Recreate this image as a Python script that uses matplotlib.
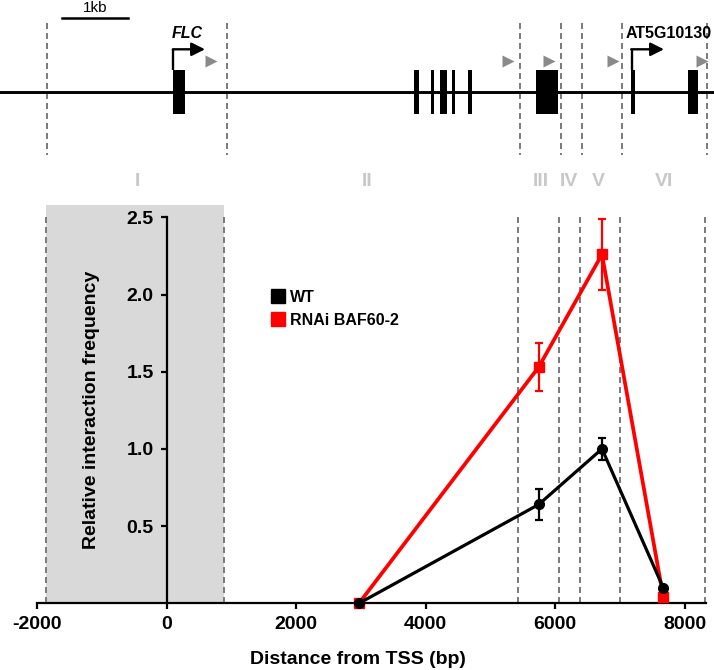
import matplotlib
matplotlib.use("Agg")
import matplotlib.pyplot as plt
from matplotlib.patches import Rectangle
from matplotlib.lines import Line2D

plt.rcParams['font.family'] = ['Liberation Sans', 'DejaVu Sans']
plt.rcParams['lines.scale_dashes'] = False

# ---------------- data ----------------
positions = [2972, 5747, 6724, 7671]
wt_values = [0.0, 0.64, 1.00, 0.10]
wt_err = [0.0, 0.10, 0.07, 0.0]
rnai_values = [0.0, 1.53, 2.26, 0.04]
rnai_err = [0.0, 0.155, 0.23, 0.0]
series_labels = ["WT", "RNAi BAF60-2"]

x_ticks = [-2000, 0, 2000, 4000, 6000, 8000]
y_ticks = [0.5, 1.0, 1.5, 2.0, 2.5]

region_bounds = [-1865, 888, 5432, 6060, 6384, 6997, 8314]
region_labels = ["I", "II", "III", "IV", "V", "VI"]
region_label_x = [-452, 3096, 5775, 6210, 6662, 7678]
shaded_region = (-1865, 888)

# gene diagram (bp, same scale as the plot)
diagram_bounds = [-1845, 928, 5458, 6091, 6415, 7037, 8350]
exon_starts = [96, 3821, 4079, 4223, 4413, 4655, 5705, 7167, 8057]
exon_ends = [286, 3899, 4135, 4336, 4459, 4717, 6049, 7234, 8211]
primer_pos = [684, 5276, 5907, 6898, 8263]
tss_pos = [105, 7183]
tss_tip = [594, 7681]
gene_names = ["FLC", "AT5G10130"]
scalebar = (-1618, -599)

# ---------------- layout ----------------
W, H = 714, 670
fig = plt.figure(figsize=(W / 100, H / 100), dpi=100)

px_left, px_right = 37, 706
px_y0, px_ytop = 603.3, 217.3
xmin, xmax = -2000, 8330
ax = fig.add_axes([px_left / W, (H - px_y0) / H, (px_right - px_left) / W, (px_y0 - px_ytop) / H])
ax.set_xlim(xmin, xmax)
ax.set_ylim(0, 2.5)

s = (xmax - xmin) / (px_right - px_left)  # bp per pixel

dash = [(0, (4.3, 2.9))]

# shaded region and dashed boundaries
ax.add_patch(Rectangle((shaded_region[0], 0), shaded_region[1] - shaded_region[0], 2.58,
                       facecolor='#d9d9d9', edgecolor='none', zorder=0, clip_on=False))
ax.vlines(region_bounds, 0, 2.53, colors='#7a7a7a', linestyles=dash,
          linewidth=1.4, zorder=1, clip_on=False)

for lab, xl in zip(region_labels, region_label_x):
    ax.text(xl, 2.735, lab, ha='center', va='center', fontsize=14, fontweight='bold',
            color='#c8c8c8', clip_on=False)

# series
ax.errorbar(positions, rnai_values, yerr=rnai_err, color='#ff0000', lw=2.7, marker='s', ms=7,
            elinewidth=1.6, capsize=3.2, capthick=1.6, zorder=3, clip_on=False)
ax.errorbar(positions, wt_values, yerr=wt_err, color='black', lw=2.3, marker='o', ms=7,
            elinewidth=1.6, capsize=3.2, capthick=1.6, zorder=4, clip_on=False)

# axes styling
for sp in ['top', 'right']:
    ax.spines[sp].set_visible(False)
ax.spines['left'].set_position(('data', 0))
ax.spines['left'].set_linewidth(1.6)
ax.spines['bottom'].set_linewidth(1.6)
ax.set_xticks(x_ticks)
ax.set_xticklabels([str(v) for v in x_ticks])
ax.set_yticks(y_ticks)
ax.set_yticklabels(["%.1f" % v for v in y_ticks])
ax.tick_params(axis='both', direction='out', length=4.3, width=1.6, labelsize=14)
ax.tick_params(axis='y', pad=5)
ax.tick_params(axis='x', pad=4.5)
for lab in ax.get_xticklabels() + ax.get_yticklabels():
    lab.set_fontweight('bold')

fig.text(357.5 / W, 1 - 659 / H, "Distance from TSS (bp)", ha='center', va='center',
         fontsize=14, fontweight='bold')
fig.text(91.7 / W, 1 - 410 / H, "Relative interaction frequency", ha='center', va='center',
         fontsize=14, fontweight='bold', rotation=90)

handles = [Line2D([], [], ls='none', marker='s', ms=10.5, color='black'),
           Line2D([], [], ls='none', marker='s', ms=10.5, color='#ff0000')]
ax.legend(handles, series_labels, loc='upper left', bbox_to_anchor=(271 / W, 1 - 290 / H),
          bbox_transform=fig.transFigure, frameon=False, handlelength=0.9, handletextpad=0.3,
          labelspacing=0.5, borderpad=0, borderaxespad=0,
          prop={'weight': 'bold', 'size': 11.5})

# ---------------- gene diagram ----------------
top_h = 200
axt = fig.add_axes([0, 1 - top_h / H, 1, top_h / H])
axt.set_xlim(xmin - px_left * s, xmax + (W - px_right) * s)
axt.set_ylim(top_h, 0)
axt.axis('off')

axt.axhline(92.3, color='black', lw=2.1, zorder=2)
axt.vlines(diagram_bounds, 23, 155, colors='#7a7a7a', linestyles=dash,
           linewidth=1.4, zorder=1)
exon_widths = [e - b for b, e in zip(exon_starts, exon_ends)]
axt.bar(exon_starts, [44] * len(exon_starts), width=exon_widths, bottom=70,
        align='edge', color='black', zorder=3)
axt.plot(primer_pos, [60.5] * len(primer_pos), ls='none', marker='>', ms=9,
         color='#8a8a8a', mec='none', zorder=3)
for xs, xt in zip(tss_pos, tss_tip):
    axt.plot([xs, xs], [70, 49.3], color='black', lw=1.7, zorder=3, solid_capstyle='butt')
    axt.annotate('', xy=(xt, 49.3), xytext=(xs - 0.5 * s, 49.3),
                 arrowprops=dict(arrowstyle='-|>,head_length=0.8,head_width=0.4',
                                 color='black', lw=1.7, shrinkA=0, shrinkB=0))
axt.text(317, 33.5, gene_names[0], ha='center', va='center', fontsize=11.5,
         fontweight='bold', style='italic')
axt.text(7094, 33.5, gene_names[1], ha='left', va='center', fontsize=11.5, fontweight='bold')

axt.plot(list(scalebar), [18.3, 18.3], color='black', lw=1.8)
axt.text(sum(scalebar) / 2, 8.5, "1kb", ha='center', va='center', fontsize=11)

fig.savefig("out.png", dpi=100)
